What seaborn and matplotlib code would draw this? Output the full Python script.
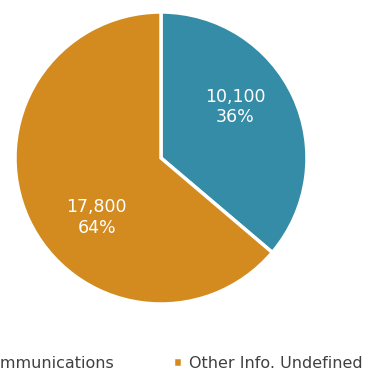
import matplotlib
matplotlib.use("Agg")
import matplotlib.pyplot as plt
import seaborn as sns

sns.set_theme(style="white")
plt.rcParams["font.family"] = ["DejaVu Sans"]

categories = ["Telecommunications", "Other Info. Undefined"]
values = [10100, 17800]
colors = ["#358CA6", "#D38B1F"]

fig = plt.figure(figsize=(3.65, 3.68), dpi=100)
cx, cy, r = 161, 158, 146
ax = fig.add_axes([(cx - r) / 365, (368 - cy - r) / 368, 2 * r / 365, 2 * r / 368])

wedges, _ = ax.pie(values, colors=colors, startangle=90, counterclock=False,
                   wedgeprops=dict(edgecolor="white", linewidth=2.5))
ax.set_xlim(-1, 1)
ax.set_ylim(-1, 1)
ax.set_aspect("equal")
ax.axis("off")

total = sum(values)
label_pos = [(0.51, 0.35), (-0.44, -0.41)]
for (x, y), v in zip(label_pos, values):
    ax.text(x, y, f"{v:,}\n{v / total:.0%}", ha="center", va="center",
            color="white", fontsize=12.5, linespacing=1.2)

# Legend runs wider than the canvas, so its first entry starts past the left edge
leg = fig.legend(wedges, categories, loc="center right", ncol=2, frameon=False,
                 bbox_to_anchor=(363 / 365, 1 - 363 / 368),
                 borderpad=0, borderaxespad=0,
                 handlelength=0.6, handleheight=0.6, handletextpad=0.45,
                 columnspacing=3.7, fontsize=11.5)
for t in leg.get_texts():
    t.set_color("#404040")

fig.savefig("out.png", dpi=100)
